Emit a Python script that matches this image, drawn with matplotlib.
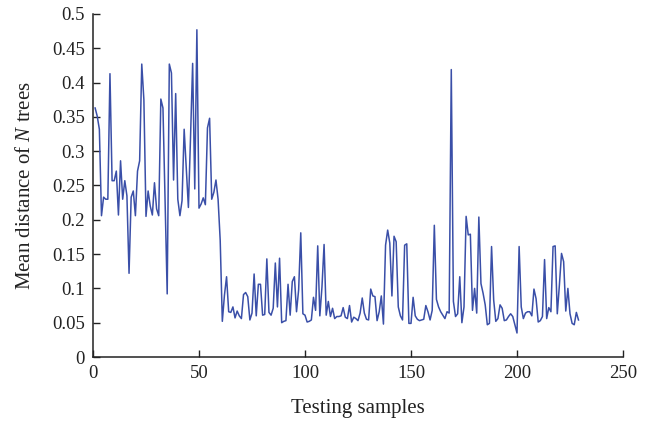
import matplotlib
matplotlib.use("Agg")
import matplotlib.pyplot as plt
from matplotlib.ticker import FuncFormatter

# ---- data ----
mean_distance = [
    0.363, 0.351, 0.332, 0.206, 0.233, 0.230, 0.230, 0.413, 0.257, 0.257,   # 1-10
    0.271, 0.207, 0.286, 0.230, 0.257, 0.235, 0.122, 0.233, 0.242, 0.206,   # 11-20
    0.271, 0.286, 0.427, 0.375, 0.205, 0.242, 0.220, 0.207, 0.254, 0.216,   # 21-30
    0.206, 0.376, 0.363, 0.225, 0.092, 0.427, 0.414, 0.258, 0.384, 0.230,   # 31-40
    0.206, 0.228, 0.332, 0.275, 0.218, 0.320, 0.428, 0.245, 0.477, 0.217,   # 41-50
    0.223, 0.232, 0.222, 0.334, 0.348, 0.230, 0.240, 0.258, 0.230, 0.170,   # 51-60
    0.052, 0.090, 0.117, 0.066, 0.065, 0.073, 0.057, 0.067, 0.060, 0.056,   # 61-70
    0.091, 0.094, 0.088, 0.054, 0.064, 0.121, 0.060, 0.106, 0.106, 0.061,   # 71-80
    0.062, 0.143, 0.065, 0.061, 0.071, 0.137, 0.073, 0.144, 0.050, 0.052,   # 81-90
    0.053, 0.106, 0.061, 0.110, 0.117, 0.066, 0.098, 0.181, 0.063, 0.061,   # 91-100
    0.051, 0.052, 0.054, 0.087, 0.068, 0.162, 0.060, 0.102, 0.164, 0.061,   # 101-110
    0.081, 0.059, 0.071, 0.056, 0.059, 0.059, 0.060, 0.072, 0.058, 0.056,   # 111-120
    0.075, 0.051, 0.058, 0.056, 0.053, 0.064, 0.086, 0.064, 0.055, 0.054,   # 121-130
    0.099, 0.089, 0.088, 0.053, 0.066, 0.089, 0.048, 0.163, 0.185, 0.166,   # 131-140
    0.089, 0.176, 0.168, 0.073, 0.060, 0.054, 0.163, 0.165, 0.049, 0.049,   # 141-150
    0.087, 0.060, 0.055, 0.053, 0.054, 0.055, 0.075, 0.066, 0.054, 0.068,   # 151-160
    0.192, 0.084, 0.073, 0.066, 0.061, 0.056, 0.066, 0.064, 0.419, 0.081,   # 161-170
    0.059, 0.063, 0.117, 0.050, 0.073, 0.205, 0.178, 0.179, 0.068, 0.100,   # 171-180
    0.064, 0.204, 0.107, 0.093, 0.076, 0.047, 0.049, 0.161, 0.083, 0.052,   # 181-190
    0.056, 0.076, 0.071, 0.053, 0.054, 0.059, 0.063, 0.059, 0.047, 0.035,   # 191-200
    0.161, 0.073, 0.056, 0.064, 0.066, 0.066, 0.060, 0.099, 0.085, 0.051,   # 201-210
    0.053, 0.059, 0.142, 0.056, 0.072, 0.066, 0.161, 0.162, 0.063, 0.105,   # 211-220
    0.151, 0.139, 0.067, 0.100, 0.063, 0.049, 0.047, 0.065, 0.054,          # 221-229
]
samples = list(range(1, len(mean_distance) + 1))
x_ticks = [0, 50, 100, 150, 200, 250]
y_ticks = [0, 0.05, 0.1, 0.15, 0.2, 0.25, 0.3, 0.35, 0.4, 0.45, 0.5]

plt.rcParams['font.family'] = ['Liberation Serif', 'DejaVu Serif']
plt.rcParams['mathtext.fontset'] = 'custom'
plt.rcParams['mathtext.rm'] = 'Liberation Serif'
plt.rcParams['mathtext.it'] = 'Liberation Serif:italic'

fig = plt.figure(figsize=(6.59, 4.23), dpi=100)
ax = fig.add_axes([93/659, 1 - 357/423, (623 - 93)/659, (357 - 14)/423])

ax.plot(samples, mean_distance, color='#3a4fa8', lw=1.1)

ax.set_xlim(0, 250)
ax.set_ylim(0, 0.5)
ax.set_xticks(x_ticks)
ax.set_yticks(y_ticks)
ax.yaxis.set_major_formatter(FuncFormatter(lambda v, p: '%g' % v))

for s in ['top', 'right']:
    ax.spines[s].set_visible(False)
for s in ['left', 'bottom']:
    ax.spines[s].set_color('#222222')
    ax.spines[s].set_linewidth(1.1)

ax.tick_params(direction='in', length=5, width=1.0, color='#222222',
               labelsize=13.5, labelcolor='#222222')
ax.tick_params(axis='x', pad=6)
ax.tick_params(axis='y', pad=6)

ax.set_xlabel('Testing samples', fontsize=15, color='#222222', labelpad=12)
ax.set_ylabel('Mean distance of $N$ trees', fontsize=15, color='#222222', labelpad=12)

fig.savefig('out.png', dpi=100)
